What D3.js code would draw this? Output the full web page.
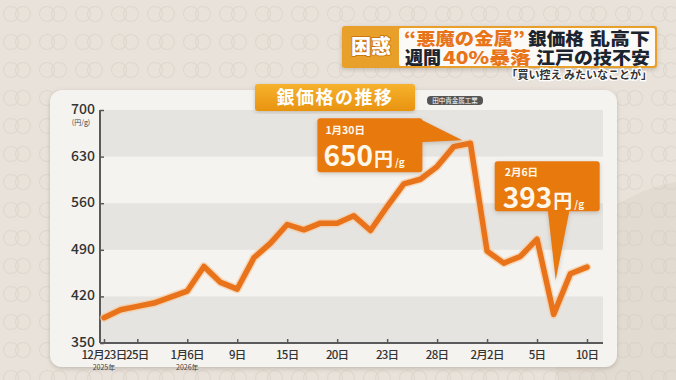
<!DOCTYPE html>
<html>
<head>
<meta charset="utf-8">
<script src="https://cdn.jsdelivr.net/npm/d3@7"></script>
<style>
  body { margin: 0; background: #e7e1d9; }
  svg { display: block; font-family: "Noto Sans CJK JP", "Noto Sans", sans-serif; }
</style>
</head>
<body>
<div id="chart"></div>
<script>
// silver price (Tanaka Kikinzoku retail, yen per gram), trading days
const dates = ["12/23","12/24","12/25","12/26","1/5","1/6","1/7","1/8","1/9","1/13",
               "1/14","1/15","1/16","1/19","1/20","1/21","1/22","1/23","1/26","1/27",
               "1/28","1/29","1/30","2/2","2/3","2/4","2/5","2/6","2/9","2/10"];
const prices = [388, 400, 405, 410, 419, 428, 465, 441, 431, 478,
                500, 528, 520, 530, 530, 541, 519, 555, 589, 596,
                615, 645, 650, 488, 470, 480, 506, 393, 454, 464];

const yTicks = [350, 420, 490, 560, 630, 700];
const xTickDates = ["12/23","12/25","1/6","1/9","1/15","1/20","1/23","1/28","2/2","2/5","2/10"];
const xTickLabels = ["12月23日","25日","1月6日","9日","15日","20日","23日","28日","2月2日","5日","10日"];
const yearLabels = [{ date: "12/23", text: "2025年" }, { date: "1/6", text: "2026年" }];

const callouts = [
  { date: "1/30", day: "1月30日", value: "650" },
  { date: "2/6", day: "2月6日", value: "393" }
];

const W = 676, H = 380;
const orange = "#e8790f";

const svg = d3.select("#chart").append("svg")
  .attr("width", W).attr("height", H);

const defs = svg.append("defs");

// ring pattern for the backdrop
const pat = defs.append("pattern")
  .attr("id", "rings").attr("width", 36).attr("height", 28)
  .attr("patternUnits", "userSpaceOnUse");
pat.append("circle").attr("cx", 11).attr("cy", 14).attr("r", 7.5)
  .attr("fill", "none").attr("stroke", "#dbd2c7").attr("stroke-width", 1.1);
pat.append("circle").attr("cx", 23).attr("cy", 14).attr("r", 7.5)
  .attr("fill", "none").attr("stroke", "#dbd2c7").attr("stroke-width", 1.1);

const shadow = defs.append("filter").attr("id", "shadow")
  .attr("x", "-5%").attr("y", "-5%").attr("width", "110%").attr("height", "115%");
shadow.append("feDropShadow").attr("dx", 0).attr("dy", 1.5)
  .attr("stdDeviation", 2).attr("flood-color", "#7a6a58").attr("flood-opacity", 0.35);

const gold = defs.append("linearGradient").attr("id", "gold")
  .attr("x1", 0).attr("y1", 0).attr("x2", 0).attr("y2", 1);
gold.append("stop").attr("offset", "0%").attr("stop-color", "#f6b22e");
gold.append("stop").attr("offset", "100%").attr("stop-color", "#e9930f");

// background
svg.append("rect").attr("width", W).attr("height", H).attr("fill", "#e8e2da");
svg.append("rect").attr("width", W).attr("height", H).attr("fill", "url(#rings)").attr("opacity", 0.7);
svg.append("circle").attr("cx", 700).attr("cy", 330).attr("r", 150)
  .attr("fill", "#d3c9bd").attr("opacity", 0.3);

// card
svg.append("rect")
  .attr("x", 50).attr("y", 90).attr("width", 567).attr("height", 277)
  .attr("rx", 12).attr("fill", "#f5f3ef").attr("filter", "url(#shadow)");

// scales
const x = d3.scalePoint().domain(dates).range([104, 587]);
const y = d3.scaleLinear().domain([350, 700]).range([343, 110]);
const plotRight = 603;

// gray bands
const bands = [[630, 700], [490, 560], [350, 420]];
svg.selectAll(".band").data(bands).enter().append("rect")
  .attr("class", "band")
  .attr("x", 100).attr("width", plotRight - 100)
  .attr("y", d => y(d[1])).attr("height", d => y(d[0]) - y(d[1]))
  .attr("fill", "#e6e4e0");

// y axis
const yAxis = svg.append("g").attr("transform", "translate(100,0)")
  .call(d3.axisRight(y).tickValues(yTicks).tickSize(4).tickFormat(""));
yAxis.select(".domain").attr("stroke", "#5a5a5a").attr("stroke-width", 2)
  .attr("d", `M0,${y(700)}V${y(350)}`);
yAxis.selectAll(".tick line").attr("stroke", "#5a5a5a").attr("stroke-width", 1.5);

svg.selectAll(".ylab").data(yTicks).enter().append("text")
  .attr("class", "ylab")
  .attr("x", 95).attr("y", d => y(d) - 1)
  .attr("dy", "0.36em").attr("text-anchor", "end")
  .attr("font-size", 14).attr("font-weight", 500).attr("fill", "#333")
  .text(d => d);
svg.append("text").attr("x", 81).attr("y", 125).attr("text-anchor", "middle")
  .attr("font-size", 7).attr("fill", "#444").text("(円/g)");

// x axis
const xAxis = svg.append("g").attr("transform", `translate(0,${y(350)})`)
  .call(d3.axisTop(x).tickValues(xTickDates).tickSize(4).tickFormat(""));
xAxis.select(".domain").attr("stroke", "#5a5a5a").attr("stroke-width", 2)
  .attr("d", `M100,0H${plotRight}`);
xAxis.selectAll(".tick line").attr("stroke", "#5a5a5a").attr("stroke-width", 1.5);

svg.selectAll(".xlab").data(xTickDates).enter().append("text")
  .attr("class", "xlab")
  .attr("x", d => x(d)).attr("y", 359)
  .attr("text-anchor", "middle")
  .attr("font-size", 11.5).attr("font-weight", 500).attr("fill", "#333")
  .attr("letter-spacing", -0.7)
  .text((d, i) => xTickLabels[i]);
svg.selectAll(".yearlab").data(yearLabels).enter().append("text")
  .attr("class", "yearlab")
  .attr("x", d => x(d.date)).attr("y", 370)
  .attr("text-anchor", "middle")
  .attr("font-size", 7).attr("fill", "#444")
  .text(d => d.text);

// price line
const line = d3.line().x((d, i) => x(dates[i])).y(d => y(d));
svg.append("path").datum(prices)
  .attr("d", line).attr("fill", "none")
  .attr("stroke", "#f6c594").attr("stroke-width", 8.5).attr("opacity", 0.6)
  .attr("stroke-linejoin", "round").attr("stroke-linecap", "round");
svg.append("path").datum(prices)
  .attr("d", line).attr("fill", "none")
  .attr("stroke", "#e8731a").attr("stroke-width", 5.5)
  .attr("stroke-linejoin", "round").attr("stroke-linecap", "round");

// callout boxes
function priceText(g, tx, ty, c) {
  g.append("text").attr("x", tx).attr("y", ty)
    .attr("font-size", 10.5).attr("font-weight", 700).attr("fill", "#fff8ea")
    .text(c.day);
  const t = g.append("text").attr("x", tx - 2).attr("y", ty + 32)
    .attr("font-weight", 700).attr("fill", "#fff8ea");
  t.append("tspan").attr("font-size", 28).text(c.value);
  t.append("tspan").attr("font-size", 19).attr("dx", 1).text("円");
  t.append("tspan").attr("font-size", 10).attr("dx", 2).text("/g");
}

// 1/30 peak: box up-left, tail points right to the peak
{
  const c = callouts[0];
  const px = x(c.date), py = y(prices[dates.indexOf(c.date)]);
  const bx = px - 153, by = py - 25, bw = 105, bh = 54;
  const g = svg.append("g").attr("filter", "url(#shadow)");
  g.append("path")
    .attr("d", `M${bx + bw - 4},${by} L${px - 8},${py - 3} L${bx + bw - 4},${by + 24} Z`)
    .attr("fill", orange);
  g.append("rect").attr("x", bx).attr("y", by).attr("width", bw).attr("height", bh)
    .attr("rx", 3).attr("fill", orange);
  priceText(svg.append("g"), bx + 8, by + 16, c);
}

// 2/6 low: box above, tail points down to the low
{
  const c = callouts[1];
  const px = x(c.date), py = y(prices[dates.indexOf(c.date)]);
  const bx = px - 59, by = py - 153, bw = 105, bh = 50;
  const g = svg.append("g").attr("filter", "url(#shadow)");
  g.append("path")
    .attr("d", `M${px - 6},${by + bh - 2} L${px + 2},${py - 34} L${px + 16},${by + bh - 2} Z`)
    .attr("fill", orange);
  g.append("rect").attr("x", bx).attr("y", by).attr("width", bw).attr("height", bh)
    .attr("rx", 3).attr("fill", orange);
  priceText(svg.append("g"), bx + 10, by + 15, c);
}

// chart title tag
svg.append("rect").attr("x", 255).attr("y", 84).attr("width", 160).attr("height", 27)
  .attr("rx", 3).attr("fill", "url(#gold)").attr("filter", "url(#shadow)");
svg.append("text").attr("x", 335).attr("y", 104).attr("text-anchor", "middle")
  .attr("font-size", 18).attr("font-weight", 700).attr("fill", "#fff")
  .attr("letter-spacing", 1.5)
  .text("銀価格の推移");

// source tag
svg.append("rect").attr("x", 427).attr("y", 96).attr("width", 56).attr("height", 9)
  .attr("rx", 4).attr("fill", "#555");
svg.append("text").attr("x", 455).attr("y", 102.8).attr("text-anchor", "middle")
  .attr("font-size", 6.5).attr("fill", "#fff").text("田中貴金属工業");

// news header
const hdr = svg.append("g").attr("filter", "url(#shadow)");
hdr.append("rect").attr("x", 342).attr("y", 26).attr("width", 315).attr("height", 42)
  .attr("rx", 3).attr("fill", "#e9a02a");
hdr.append("rect").attr("x", 399).attr("y", 28).attr("width", 256).attr("height", 38)
  .attr("rx", 2).attr("fill", "#fbfaf7");
svg.append("text").attr("x", 371).attr("y", 54).attr("text-anchor", "middle")
  .attr("font-size", 20).attr("font-weight", 900).attr("fill", "#fff")
  .attr("stroke", "#c86f0a").attr("stroke-width", 1.5).attr("paint-order", "stroke")
  .text("困惑");

// header lines as separate runs, each squeezed to its own width
const headRuns = [
  { text: "“悪魔の金属”", x: 404, y: 45, w: 121, color: "#e8741a" },
  { text: "銀価格", x: 528, y: 45, w: 56, color: "#1c2430" },
  { text: "乱高下", x: 590, y: 45, w: 60, color: "#1c2430" },
  { text: "週間", x: 405, y: 64, w: 36, color: "#1c2430" },
  { text: "40%暴落", x: 443, y: 64, w: 88, color: "#e8741a" },
  { text: "江戸の技不安", x: 536, y: 64, w: 114, color: "#1c2430" }
];
svg.selectAll(".head").data(headRuns).enter().append("text")
  .attr("class", "head")
  .attr("x", d => d.x).attr("y", d => d.y)
  .attr("font-size", 17.5).attr("font-weight", 900).attr("fill", d => d.color)
  .attr("textLength", d => d.w).attr("lengthAdjust", "spacingAndGlyphs")
  .text(d => d.text);

svg.append("text").attr("x", 652).attr("y", 79).attr("text-anchor", "end")
  .attr("font-size", 11).attr("font-weight", 700).attr("fill", "#333")
  .attr("stroke", "#fff").attr("stroke-width", 2.5).attr("paint-order", "stroke")
  .text("「買い控え みたいなことが」");
</script>
</body>
</html>
